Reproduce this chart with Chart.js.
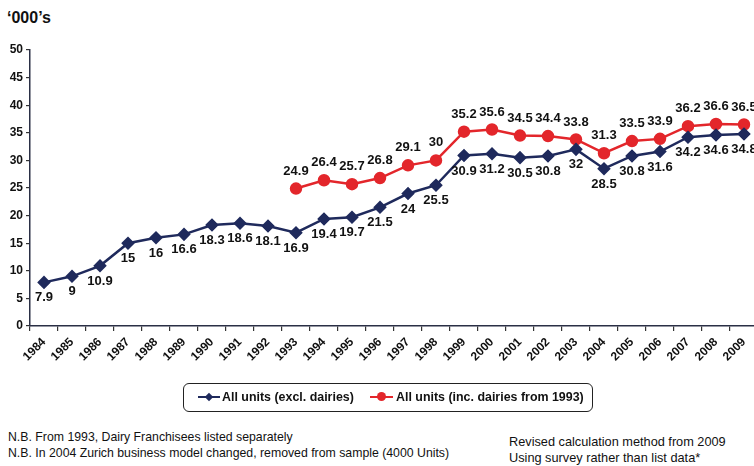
<!DOCTYPE html>
<html>
<head>
<meta charset="utf-8">
<script src="https://cdn.jsdelivr.net/npm/chart.js@4.4.0/dist/chart.umd.min.js"></script>
<style>
  html, body { margin: 0; padding: 0; background: #fff; width: 754px; height: 466px; overflow: hidden; }
  body { position: relative; font-family: "Liberation Sans", Arial, sans-serif; color: #111; }
  #title { position: absolute; left: 7px; top: 9px; font-weight: bold; font-size: 16px; }
  #wrap { position: absolute; left: 0; top: 0; width: 770px; height: 385px; }
  #legend {
    position: absolute; left: 183px; top: 383px; width: 410px; height: 29px;
    border: 1.5px solid #222; border-radius: 6px; box-sizing: border-box;
    font-weight: bold; font-size: 13.5px;
  }
  .item { position: absolute; top: 5px; height: 16px; line-height: 16px; white-space: nowrap; transform: scaleX(0.92); transform-origin: left center; }
  .mk { position: absolute; height: 2px; }
  .dia { position: absolute; width: 6px; height: 6px; transform: rotate(45deg); }
  .dot { position: absolute; width: 9px; height: 9px; border-radius: 50%; }
  .note { position: absolute; font-size: 13px; line-height: 16px; white-space: nowrap; transform-origin: left center; }
</style>
</head>
<body>
<div id="title">‘000’s</div>
<div id="wrap"><canvas id="myChart" width="770" height="385"></canvas></div>

<div id="legend">
  <div class="mk" style="left:14px;width:22px;background:#1f2a5c;top:12px"></div>
  <div class="dia" style="left:22px;top:10px;background:#1f2a5c"></div>
  <div class="item" style="left:38px">All units (excl. dairies)</div>
  <div class="mk" style="left:186px;width:23px;background:#e3262b;top:12px"></div>
  <div class="dot" style="left:193px;top:8px;background:#e3262b"></div>
  <div class="item" style="left:212px">All units (inc. dairies from 1993)</div>
</div>

<div class="note" style="left:8px;top:429px;transform:scaleX(0.945)">N.B. From 1993, Dairy Franchisees listed separately</div>
<div class="note" style="left:8px;top:445px;transform:scaleX(0.945)">N.B. In 2004 Zurich business model changed, removed from sample (4000 Units)</div>
<div class="note" style="left:509px;top:434px;transform:scaleX(0.98)">Revised calculation method from 2009</div>
<div class="note" style="left:509px;top:450px;transform:scaleX(0.98)">Using survey rather than list data*</div>

<script>
var years = ["1984", "1985", "1986", "1987", "1988", "1989", "1990", "1991", "1992", "1993",
  "1994", "1995", "1996", "1997", "1998", "1999", "2000", "2001", "2002", "2003",
  "2004", "2005", "2006", "2007", "2008", "2009"];
var exclDairies = [7.9, 9, 10.9, 15, 16, 16.6, 18.3, 18.6, 18.1, 16.9,
  19.4, 19.7, 21.5, 24, 25.5, 30.9, 31.2, 30.5, 30.8, 32,
  28.5, 30.8, 31.6, 34.2, 34.6, 34.8];
var incDairies = [null, null, null, null, null, null, null, null, null, 24.9,
  26.4, 25.7, 26.8, 29.1, 30, 35.2, 35.6, 34.5, 34.4, 33.8,
  31.3, 33.5, 33.9, 36.2, 36.6, 36.5];

var navy = "#1f2a5c";
var red = "#e3262b";

// value labels: blue under the points, red above
var valueLabels = {
  id: "valueLabels",
  afterDatasetsDraw(chart) {
    var ctx = chart.ctx;
    ctx.save();
    ctx.font = "bold 13px 'Liberation Sans', Arial, sans-serif";
    ctx.fillStyle = "#111";
    ctx.textAlign = "center";
    chart.data.datasets.forEach((ds, i) => {
      var meta = chart.getDatasetMeta(i);
      meta.data.forEach((pt, j) => {
        var v = ds.data[j];
        if (v == null) return;
        if (i == 0) {
          ctx.textBaseline = "top";
          ctx.fillText(String(v), pt.x, pt.y + 9);
        } else {
          ctx.textBaseline = "bottom";
          ctx.fillText(String(v), pt.x, pt.y - 11);
        }
      });
    });
    ctx.restore();
  },
};

var ctx = document.getElementById("myChart").getContext("2d");
var myChart = new Chart(ctx, {
  type: "line",
  data: {
    labels: years,
    datasets: [
      {
        label: "All units (excl. dairies)",
        data: exclDairies,
        borderColor: navy,
        backgroundColor: navy,
        borderWidth: 2.5,
        pointStyle: "rectRot",
        pointRadius: 5,
        tension: 0,
        fill: false,
      },
      {
        label: "All units (inc. dairies from 1993)",
        data: incDairies,
        borderColor: red,
        backgroundColor: red,
        borderWidth: 2.5,
        pointStyle: "circle",
        pointRadius: 5,
        tension: 0,
        fill: false,
      },
    ],
  },
  options: {
    responsive: false,
    animation: false,
    layout: { padding: { top: 50, right: 12, left: 0, bottom: 0 } },
    plugins: { legend: { display: false }, tooltip: { enabled: false } },
    scales: {
      x: {
        offset: true,
        grid: { offset: true, drawOnChartArea: false, tickLength: 5, color: "#333", lineWidth: 1.2 },
        border: { color: "#2a2f45", width: 1.5 },
        ticks: {
          color: "#111",
          font: { family: "'Liberation Sans', Arial, sans-serif", weight: "bold", size: 12 },
          minRotation: 45,
          maxRotation: 45,
          autoSkip: false,
          padding: 4,
        },
        afterFit(scale) { scale.height = 59; },
      },
      y: {
        min: 0,
        max: 50,
        ticks: {
          stepSize: 5,
          color: "#111",
          font: { family: "'Liberation Sans', Arial, sans-serif", weight: "bold", size: 12 },
          padding: 3,
        },
        grid: { drawOnChartArea: false, tickLength: 4, color: "#333", lineWidth: 1.2 },
        border: { color: "#2a2f45", width: 1.5 },
        afterFit(scale) { scale.width = 30; },
      },
    },
  },
  plugins: [valueLabels],
});
</script>
</body>
</html>
